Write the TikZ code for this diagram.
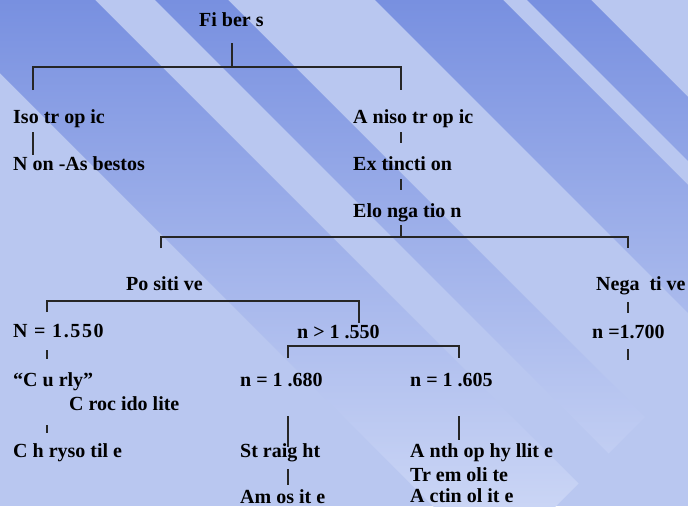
\documentclass[tikz,border=0pt]{standalone}
\usepackage{fontspec}
\setmainfont{Liberation Serif}
\usepackage{tikz}
\usetikzlibrary{calc}
\definecolor{bgbase}{HTML}{B9C7F0}
\definecolor{stripetop}{HTML}{7890E0}
\definecolor{stripebot}{HTML}{CAD5F5}
\tikzset{
        lbl/.style = {inner sep=0pt, anchor=base west,
            font=\fontsize{20}{24}\selectfont\bfseries},
        wide/.style = {font=\fontsize{20}{24}\selectfont\bfseries\addfontfeature{LetterSpace=8}},
        link/.style = {draw, line width=1.1pt, black!85},
    }

\begin{document}
\begin{tikzpicture}[x=1pt,y=-1pt]
                \useasboundingbox (0,0) rectangle (688,506);
                % background with diagonal stripes
                \fill[bgbase] (0,0) rectangle (688,506);
                \begin{scope}
                    \clip (-73,0) -- (95,0) -- (578.5,483.5) -- (494.5,567.5) -- cycle
                          (155,0) -- (228,0) -- (645,417) -- (608.5,453.5) -- cycle
                          (375,0) -- (503,0) -- (782.5,279.5) -- (718.5,343.5) -- cycle
                          (527,0) -- (591,0) -- (826.5,235.5) -- (794.5,267.5) -- cycle;
                    \shade[top color=stripetop, bottom color=stripebot] (0,0) rectangle (688,506);
                \end{scope}

                \node[lbl] (fib) at (199,27) {Fi ber s};
                \node[lbl] (iso) at (13,123) {Iso tr op ic};
                \node[lbl] (nonas) at (13,170) {N on -As bestos};
                \node[lbl] (aniso) at (353,123) {A niso tr op ic};
                \node[lbl] (ext) at (353,170) {Ex tincti on};
                \node[lbl] (elo) at (353,217) {Elo nga tio n};
                \node[lbl] (pos) at (126,290) {Po siti ve};
                \node[lbl] (neg) at (596,290) {Nega\ \ ti ve};
                \node[lbl, wide] (n1) at (13,337) {N = 1.550};
                \node[lbl] (n2) at (297,338) {n > 1 .550};
                \node[lbl] (n5) at (592,338) {n =1.700};
                \node[lbl] (curly) at (13,386) {“C u rly”};
                \node[lbl] (croc) at (69,410) {C roc ido lite};
                \node[lbl] (chry) at (13,457) {C h ryso til e};
                \node[lbl] (n3) at (240,386) {n = 1 .680};
                \node[lbl] (str) at (240,457) {St raig ht};
                \node[lbl] (amo) at (240,503) {Am os it e};
                \node[lbl] (n4) at (410,386) {n = 1 .605};
                \node[lbl] (antho) at (410,457) {A nth op hy llit e};
                \node[lbl] (trem) at (410,481) {Tr em oli te};
                \node[lbl] (actin) at (410,502) {A ctin ol it e};

                \coordinate (fibS) at (232,43);
                \coordinate (fibJ) at (232,67);
                \coordinate (isoT) at (33,90);
                \coordinate (anisoT) at (401,90);
                \coordinate (isoB) at (33,132);
                \coordinate (nonasT) at (33,155);
                \coordinate (anisoB) at (401,132);
                \coordinate (extT) at (401,143);
                \coordinate (extB) at (401,179);
                \coordinate (eloT) at (401,190);
                \coordinate (eloB) at (401,225);
                \coordinate (eloJ) at (401,237);
                \coordinate (posT) at (161,248);
                \coordinate (negT) at (628,248);
                \coordinate (posJ) at (165,301);
                \coordinate (n1T) at (47,312);
                \coordinate (n2T) at (359,323);
                \coordinate (n1B) at (47,350);
                \coordinate (curlyT) at (47,359);
                \coordinate (crocB) at (47,425);
                \coordinate (chryT) at (47,433);
                \coordinate (n2J) at (373,346);
                \coordinate (n3T) at (288,358);
                \coordinate (n4T) at (459,358);
                \coordinate (n3B) at (288,416);
                \coordinate (strT) at (288,447);
                \coordinate (strB) at (288,469);
                \coordinate (amoT) at (288,485);
                \coordinate (n4B) at (459,416);
                \coordinate (anthoT) at (459,440);
                \coordinate (negB) at (628,302);
                \coordinate (n5T) at (628,313);
                \coordinate (n5B) at (628,349);
                \coordinate (n5E) at (628,360);

                \draw[link] (fibS) -- (fibJ);
                \draw[link] (isoT) |- (fibJ) -| (anisoT);
                \draw[link] (isoB) -- (nonasT);
                \draw[link] (anisoB) -- (extT);
                \draw[link] (extB) -- (eloT);
                \draw[link] (eloB) -- (eloJ);
                \draw[link] (posT) |- (eloJ) -| (negT);
                \draw[link] (n1T) |- (posJ) -| (n2T);
                \draw[link] (n1B) -- (curlyT);
                \draw[link] (crocB) -- (chryT);
                \draw[link] (n3T) |- (n2J) -| (n4T);
                \draw[link] (n3B) -- (strT);
                \draw[link] (strB) -- (amoT);
                \draw[link] (n4B) -- (anthoT);
                \draw[link] (negB) -- (n5T);
                \draw[link] (n5B) -- (n5E);
\end{tikzpicture}
\end{document}
